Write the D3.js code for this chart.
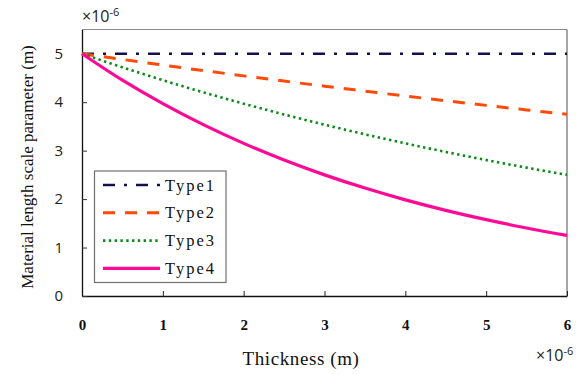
<!DOCTYPE html>
<html><head><meta charset="utf-8">
<script src="https://cdn.jsdelivr.net/npm/d3@7/dist/d3.min.js"></script>
<style>body{margin:0;background:#fff}svg{display:block}</style>
</head><body>
<svg id="c" width="576" height="374"></svg>
<script>
const thickness = [0, 0.5, 1, 1.5, 2, 2.5, 3, 3.5, 4, 4.5, 5, 5.5, 6];
const type1 = [5, 5, 5, 5, 5, 5, 5, 5, 5, 5, 5, 5, 5];
const type2 = [5.000, 4.882, 4.766, 4.653, 4.543, 4.435, 4.330, 4.228, 4.127, 4.030, 3.934, 3.841, 3.750];
const type3 = [5.000, 4.719, 4.454, 4.204, 3.969, 3.746, 3.536, 3.337, 3.150, 2.973, 2.806, 2.649, 2.500];
const type4 = [5.000, 4.454, 3.969, 3.536, 3.150, 2.806, 2.500, 2.227, 1.984, 1.768, 1.575, 1.403, 1.250];
const seriesNames = ["Type1", "Type2", "Type3", "Type4"];
const xTicks = [0, 1, 2, 3, 4, 5, 6];
const yTicks = [0, 1, 2, 3, 4, 5];

const styles = [
  {color: "#12124e", width: 2.6, dash: "12,9,3,9"},
  {color: "#ff4a0a", width: 3, dash: "12,10"},
  {color: "#0a8a1a", width: 2.6, dash: "2.4,3.4"},
  {color: "#ff0a96", width: 3.2, dash: null}
];
const allSeries = [type1, type2, type3, type4];

const svg = d3.select("#c");
const L = 82, R = 567, T = 29.5, B = 296;
const x = d3.scaleLinear().domain([0, 6]).range([L, R]);
const y = d3.scaleLinear().domain([0, 5.5]).range([B, T]);

svg.append("line").attr("x1", L).attr("x2", R).attr("y1", T).attr("y2", T).attr("stroke", "#8a8a8a").attr("stroke-width", 1.2);
svg.append("line").attr("x1", R).attr("x2", R).attr("y1", T).attr("y2", B).attr("stroke", "#6a6a6a").attr("stroke-width", 1.2);

const xAxis = svg.append("g").attr("transform", `translate(0,${B})`)
  .call(d3.axisBottom(x).tickValues(xTicks).tickSize(-5).tickSizeOuter(0).tickFormat(d3.format("d")));
xAxis.select(".domain").attr("stroke", "#111").attr("stroke-width", 1.3);
xAxis.selectAll(".tick line").attr("stroke", "#222");
xAxis.selectAll(".tick text").attr("y", 23).attr("font-family", "Liberation Serif, serif").attr("font-weight", "bold").attr("font-size", 15).attr("fill", "#111");

const yAxis = svg.append("g").attr("transform", `translate(${L},0)`)
  .call(d3.axisLeft(y).tickValues(yTicks).tickSize(-5).tickSizeOuter(0).tickFormat(d3.format("d")));
yAxis.select(".domain").attr("stroke", "#111").attr("stroke-width", 1.3);
yAxis.selectAll(".tick line").attr("stroke", "#333");
yAxis.selectAll(".tick text").attr("x", -19).attr("font-family", "Open Sans, sans-serif").attr("font-size", 15).attr("fill", "#222");

const line = d3.line().x((d, i) => x(thickness[i])).y(d => y(d)).curve(d3.curveMonotoneX);
allSeries.forEach((s, k) => {
  svg.append("path").datum(s).attr("d", line).attr("fill", "none")
    .attr("stroke", styles[k].color).attr("stroke-width", styles[k].width)
    .attr("stroke-dasharray", styles[k].dash);
});

function exp(xp, yp) {
  const t = svg.append("text").attr("x", xp).attr("y", yp).attr("font-family", "Open Sans, sans-serif").attr("font-size", 16).attr("fill", "#222");
  t.append("tspan").text("×10");
  t.append("tspan").attr("dy", -6).attr("font-size", 11).text("-6");
}
exp(82, 22);
exp(536, 361);

svg.append("text").attr("x", 301).attr("y", 365).attr("text-anchor", "middle")
  .attr("font-family", "Liberation Serif, serif").attr("font-size", 19).attr("letter-spacing", 0.6).attr("fill", "#111").text("Thickness (m)");
svg.append("text").attr("transform", "translate(33,167) rotate(-90)").attr("text-anchor", "middle")
  .attr("font-family", "Liberation Serif, serif").attr("font-size", 17).attr("fill", "#111").text("Material length scale parameter (m)");

const lg = svg.append("g");
lg.append("rect").attr("x", 94.5).attr("y", 171).attr("width", 131.5).attr("height", 111.5)
  .attr("fill", "#fff").attr("stroke", "#707070").attr("stroke-width", 1.2);
seriesNames.forEach((n, k) => {
  const yy = 185 + k * 27.8;
  lg.append("line").attr("x1", 103).attr("x2", 160).attr("y1", yy).attr("y2", yy)
    .attr("stroke", styles[k].color).attr("stroke-width", styles[k].width).attr("stroke-dasharray", styles[k].dash);
  lg.append("text").attr("x", 165).attr("y", yy + 5.5).attr("font-family", "Liberation Serif, serif")
    .attr("font-size", 16.5).attr("letter-spacing", 2).attr("fill", "#111").text(n);
});
</script>
</body></html>
